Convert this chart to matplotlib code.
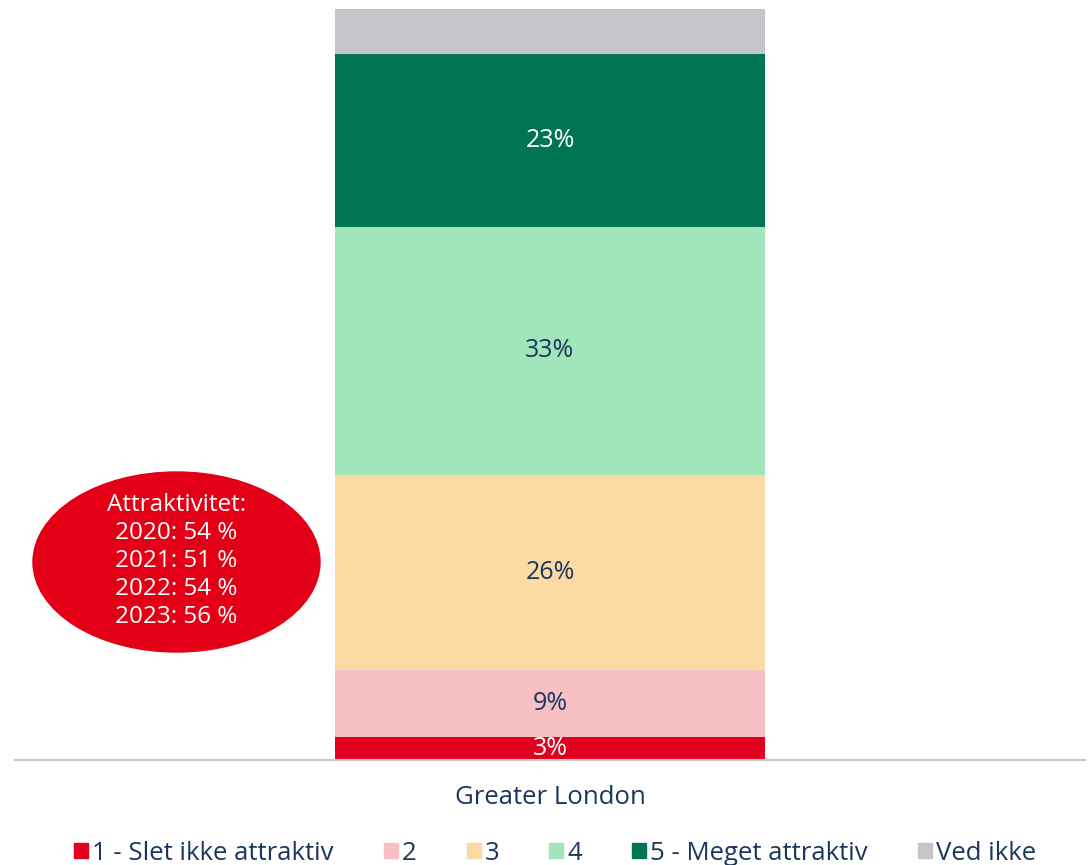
import matplotlib.pyplot as plt
from matplotlib.patches import Ellipse, Patch

plt.rcParams['font.family'] = ['Open Sans', 'DejaVu Sans']

category = "Greater London"
labels = ["1 - Slet ikke attraktiv", "2", "3", "4", "5 - Meget attraktiv", "Ved ikke"]
values = [3, 9, 26, 33, 23, 6]
show_label = [True, True, True, True, True, False]
colors = ["#E00020", "#F6C0C5", "#FADBA3", "#A0E6BA", "#007553", "#C4C5C9"]
text_colors = ["white", "#1B365D", "#1B365D", "#1B365D", "white", "#1B365D"]
bubble_lines = ["Attraktivitet:", "2020: 54 %", "2021: 51 %", "2022: 54 %", "2023: 56 %"]

navy = "#1B365D"

fig = plt.figure(figsize=(10.91, 8.65), dpi=100)
ax = fig.add_axes([15 / 1091, 105 / 865, 1070 / 1091, 751 / 865])

bottom = 0
for v, c, tc, lab, show in zip(values, colors, text_colors, labels, show_label):
    ax.bar([0], [v], bottom=bottom, width=0.401, color=c, label=lab)
    if show:
        ax.text(0, bottom + v / 2, f"{v}%", ha='center', va='center',
                fontsize=18, color=tc)
    bottom += v

ax.set_xlim(-0.5, 0.5)
ax.set_ylim(0, 100)
ax.set_xticks([0])
ax.set_xticklabels([category], fontsize=18.5, color=navy)
ax.tick_params(axis='x', length=0, pad=18)
ax.set_yticks([])
for s in ['top', 'left', 'right']:
    ax.spines[s].set_visible(False)
ax.spines['bottom'].set_color('#C8C8C8')
ax.spines['bottom'].set_linewidth(1.5)

# red bubble
ell = Ellipse((176.5 / 1091, (865 - 562) / 865), 287 / 1091, 180 / 865,
              transform=fig.transFigure, color="#E30016", zorder=5)
fig.patches.append(ell)
fig.text(176.5 / 1091, (865 - 561) / 865, "\n".join(bubble_lines),
         ha='center', va='center', fontsize=17.5, color='white',
         linespacing=1.22, zorder=6)

handles = [Patch(color=c) for c in colors]
leg = fig.legend(handles, labels, loc='center',
                 bbox_to_anchor=(555 / 1091, (865 - 853) / 865),
                 ncol=6, frameon=False, fontsize=18.5, handlelength=0.55, handleheight=0.55,
                 handletextpad=0.15, columnspacing=1.95, labelcolor=navy)

fig.savefig("out.png", dpi=100)
